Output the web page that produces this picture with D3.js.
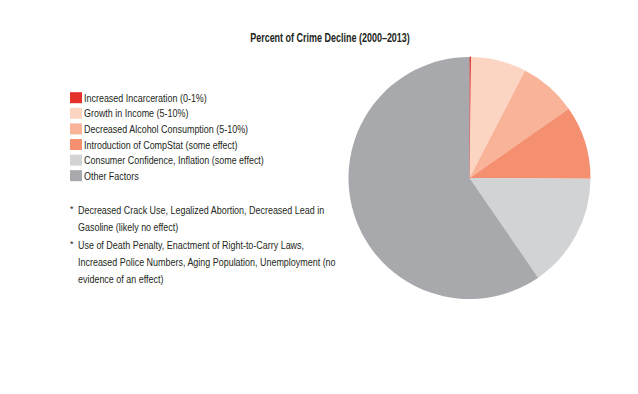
<!DOCTYPE html>
<html><head><meta charset="utf-8">
<script src="https://cdn.jsdelivr.net/npm/d3@7"></script>
<style>
body{margin:0;background:#fff;}
text{font-family:"Liberation Sans",Arial,sans-serif;fill:#231f20;}
</style></head>
<body><svg id="c" width="638" height="394"></svg>
<script>
const categories = ["Increased Incarceration (0-1%)","Growth in Income (5-10%)","Decreased Alcohol Consumption (5-10%)","Introduction of CompStat (some effect)","Consumer Confidence, Inflation (some effect)","Other Factors"];
const values = [0.2, 7.4, 7.7, 9.8, 15.3, 59.6];
const colors = ["#e4322b","#fcd4c2","#f8b398","#f48f70","#d2d3d5","#a8a9ad"];
const title = "Percent of Crime Decline (2000\u20132013)";
const notes = [
  ["* ","Decreased Crack Use, Legalized Abortion, Decreased Lead in"],
  ["","Gasoline (likely no effect)"],
  ["* ","Use of Death Penalty, Enactment of Right-to-Carry Laws,"],
  ["","Increased Police Numbers, Aging Population, Unemployment (no"],
  ["","evidence of an effect)"]
];

const svg = d3.select("#c");
svg.append("rect").attr("width",638).attr("height",394).attr("fill","#fff");

// condensed text helper: squeeze horizontally by a factor
function ctext(parent, x, y, str, size, weight, sx, anchor){
  return parent.append("text")
    .attr("transform",`translate(${x},${y}) scale(${sx},1)`)
    .attr("font-size",size).attr("font-weight",weight||"normal")
    .attr("text-anchor",anchor||"start").text(str);
}

// title
const tProbe = ctext(svg,0,0,title,13,"bold",1);
const tW = tProbe.node().getComputedTextLength(); tProbe.remove();
ctext(svg,330,41.5,title,13,"bold",160/tW,"middle");

const cx = 469.5, cy = 178, r = 121;
const pie = d3.pie().sort(null).value(d=>d);
const arc = d3.arc().innerRadius(0).outerRadius(r);
const g = svg.append("g").attr("transform",`translate(${cx},${cy})`);
g.selectAll("path").data(pie(values)).join("path")
  .attr("d",arc).attr("fill",(d,i)=>colors[i])
  .attr("stroke",(d,i)=>i===0?colors[0]:"none").attr("stroke-width",0.6);

// body text squeeze factor
const probe = ctext(svg,0,0,categories[0],11,"normal",1);
const pW = probe.node().getComputedTextLength(); probe.remove();
const sx = 123/pW;

const leg = svg.append("g");
const rowY = d3.scaleLinear().domain([0,5]).range([97.7,175.7]);
categories.forEach((c,i)=>{
  leg.append("rect").attr("x",70).attr("y",rowY(i)-5.5).attr("width",12).attr("height",11).attr("fill",colors[i]);
  ctext(leg,84,rowY(i)+4,c,11,"normal",sx);
});

const noteY = d3.scaleLinear().domain([0,4]).range([210,279]);
notes.forEach((n,i)=>{
  if(n[0]) ctext(svg,70,noteY(i)+2,"*",9,"normal",1);
  ctext(svg,78,noteY(i)+4,n[1],11,"normal",sx);
});
</script></body></html>
